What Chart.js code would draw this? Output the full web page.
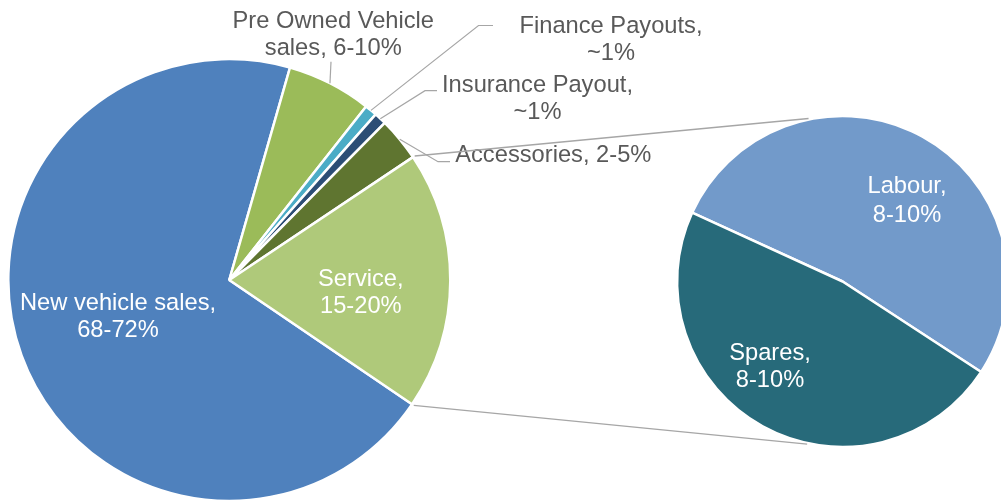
<!DOCTYPE html>
<html><head><meta charset="utf-8">
<script src="https://cdn.jsdelivr.net/npm/chart.js@4/dist/chart.umd.min.js"></script>
<style>
html,body{margin:0;padding:0;background:#fff;overflow:hidden}
#wrap{position:relative;width:1001px;height:504px;background:#fff}
canvas{position:absolute;left:0;top:0}
</style></head>
<body><div id="wrap"><canvas id="c1" width="1001" height="504"></canvas><canvas id="c2" width="1001" height="504"></canvas></div>
<script>
// ---- data ----
const categories = ['New vehicle sales', 'Pre Owned Vehicle sales', 'Finance Payouts', 'Insurance Payout', 'Accessories', 'Service'];
const shares = [70.0, 6.2, 0.9, 0.9, 3.2, 18.9];
const ranges = ['68-72%', '6-10%', '~1%', '~1%', '2-5%', '15-20%'];
const serviceCategories = ['Labour', 'Spares'];
const serviceShares = [9.9, 9.0];
const serviceRanges = ['8-10%', '8-10%'];

// ---- styles ----
const mainColors = ['#4f81bd', '#9bbb59', '#4bacc6', '#2c4d75', '#5f7530', '#afc97a'];
const serviceColors = ['#729aca', '#276a7a'];
const FONT = '23.7px "Liberation Sans", Arial, sans-serif';
const TEXT_GREY = '#595959';
const LINE_GREY = '#a6a6a6';

// label layout: center x, first baseline y, line height, wrap width, colour, leader path
const mainLabelLayout = [
  {x: 118, y: 310, lh: 27, w: 205, color: '#ffffff'},
  {x: 333.3, y: 28.3, lh: 26.7, w: 215, color: TEXT_GREY, leader: [[331, 61.7]]},
  {x: 611, y: 33.3, lh: 26.7, w: 190, color: TEXT_GREY, leader: [[493, 25.5], [478.5, 25.5]]},
  {x: 537.5, y: 91.7, lh: 27.6, w: 200, color: TEXT_GREY, leader: [[437, 90.7], [425, 90.7]]},
  {x: 553.3, y: 161.7, lh: 27, w: 260, color: TEXT_GREY, leader: [[450, 161.7], [438, 161.7]]},
  {x: 360.8, y: 285.7, lh: 27.6, w: 100, color: '#ffffff'}
];
const serviceLabelLayout = [
  {x: 907, y: 193.3, lh: 28.4, w: 100, color: '#ffffff'},
  {x: 770, y: 360, lh: 27.3, w: 100, color: '#ffffff'}
];

function wrap(ctx, text, maxW) {
  const words = text.split(' ');
  const lines = [];
  let cur = '';
  for (const w of words) {
    const t = cur ? cur + ' ' + w : w;
    if (cur && ctx.measureText(t).width > maxW) { lines.push(cur); cur = w; }
    else cur = t;
  }
  if (cur) lines.push(cur);
  return lines;
}

function drawLabel(ctx, text, L) {
  ctx.save();
  ctx.font = FONT;
  ctx.fillStyle = L.color;
  ctx.textAlign = 'center';
  ctx.textBaseline = 'alphabetic';
  wrap(ctx, text, L.w).forEach((ln, i) => ctx.fillText(ln, L.x, L.y + i * L.lh));
  ctx.restore();
}

function edgePoint(arc, ang, extra) {
  const r = arc.outerRadius + (extra || 0);
  return [arc.x + r * Math.cos(ang), arc.y + r * Math.sin(ang)];
}

function padFor(cx, cy) {
  return {left: cx - 100, right: 1001 - (cx + 100), top: cy - 100, bottom: 504 - (cy + 100)};
}

const mainLabels = {
  id: 'mainLabels',
  afterDatasetsDraw(chart) {
    const ctx = chart.ctx;
    const arcs = chart.getDatasetMeta(0).data;
    ctx.save();
    ctx.strokeStyle = LINE_GREY;
    ctx.lineWidth = 1.2;
    mainLabelLayout.forEach((L, i) => {
      if (!L.leader) return;
      const a = arcs[i];
      const mid = (a.startAngle + a.endAngle) / 2;
      const p = edgePoint(a, mid, 0);
      ctx.beginPath();
      ctx.moveTo(L.leader[0][0], L.leader[0][1]);
      for (let k = 1; k < L.leader.length; k++) ctx.lineTo(L.leader[k][0], L.leader[k][1]);
      ctx.lineTo(p[0], p[1]);
      ctx.stroke();
    });
    ctx.restore();
    categories.forEach((c, i) => drawLabel(ctx, c + ', ' + ranges[i], mainLabelLayout[i]));
  }
};

const chart1 = new Chart(document.getElementById('c1'), {
  type: 'pie',
  data: {
    labels: categories,
    datasets: [{
      data: shares,
      backgroundColor: mainColors,
      borderColor: '#ffffff',
      borderWidth: 2.5,
      clip: false
    }]
  },
  options: {
    responsive: false,
    animation: false,
    events: [],
    rotation: 124.2,
    radius: 221,
    layout: {padding: padFor(229.3, 280)},
    plugins: {legend: {display: false}, tooltip: {enabled: false}, title: {display: false}}
  },
  plugins: [mainLabels]
});

const serviceLabels = {
  id: 'serviceLabels',
  afterDatasetsDraw(chart) {
    const ctx = chart.ctx;
    // connectors from the Service slice to the secondary pie
    const svc = chart1.getDatasetMeta(0).data[5];
    const sec = chart.getDatasetMeta(0).data[0];
    const p1 = edgePoint(svc, svc.startAngle, 2);
    const p2 = edgePoint(svc, svc.endAngle, 2);
    const d2r = Math.PI / 180;
    const q1 = edgePoint(sec, (348.2 - 90) * d2r, 1);
    const q2 = edgePoint(sec, (192.3 - 90) * d2r, 1);
    ctx.save();
    ctx.strokeStyle = LINE_GREY;
    ctx.lineWidth = 1.4;
    ctx.beginPath();
    ctx.moveTo(p1[0], p1[1]); ctx.lineTo(q1[0], q1[1]);
    ctx.moveTo(p2[0], p2[1]); ctx.lineTo(q2[0], q2[1]);
    ctx.stroke();
    ctx.restore();
    serviceCategories.forEach((c, i) => drawLabel(ctx, c + ', ' + serviceRanges[i], serviceLabelLayout[i]));
  }
};

new Chart(document.getElementById('c2'), {
  type: 'pie',
  data: {
    labels: serviceCategories,
    datasets: [{
      data: serviceShares,
      backgroundColor: serviceColors,
      borderColor: '#ffffff',
      borderWidth: 2.5,
      clip: false
    }]
  },
  options: {
    responsive: false,
    animation: false,
    events: [],
    rotation: 294.6,
    radius: 165.5,
    layout: {padding: padFor(842.6, 281.5)},
    plugins: {legend: {display: false}, tooltip: {enabled: false}, title: {display: false}}
  },
  plugins: [serviceLabels]
});
</script>
</body></html>
